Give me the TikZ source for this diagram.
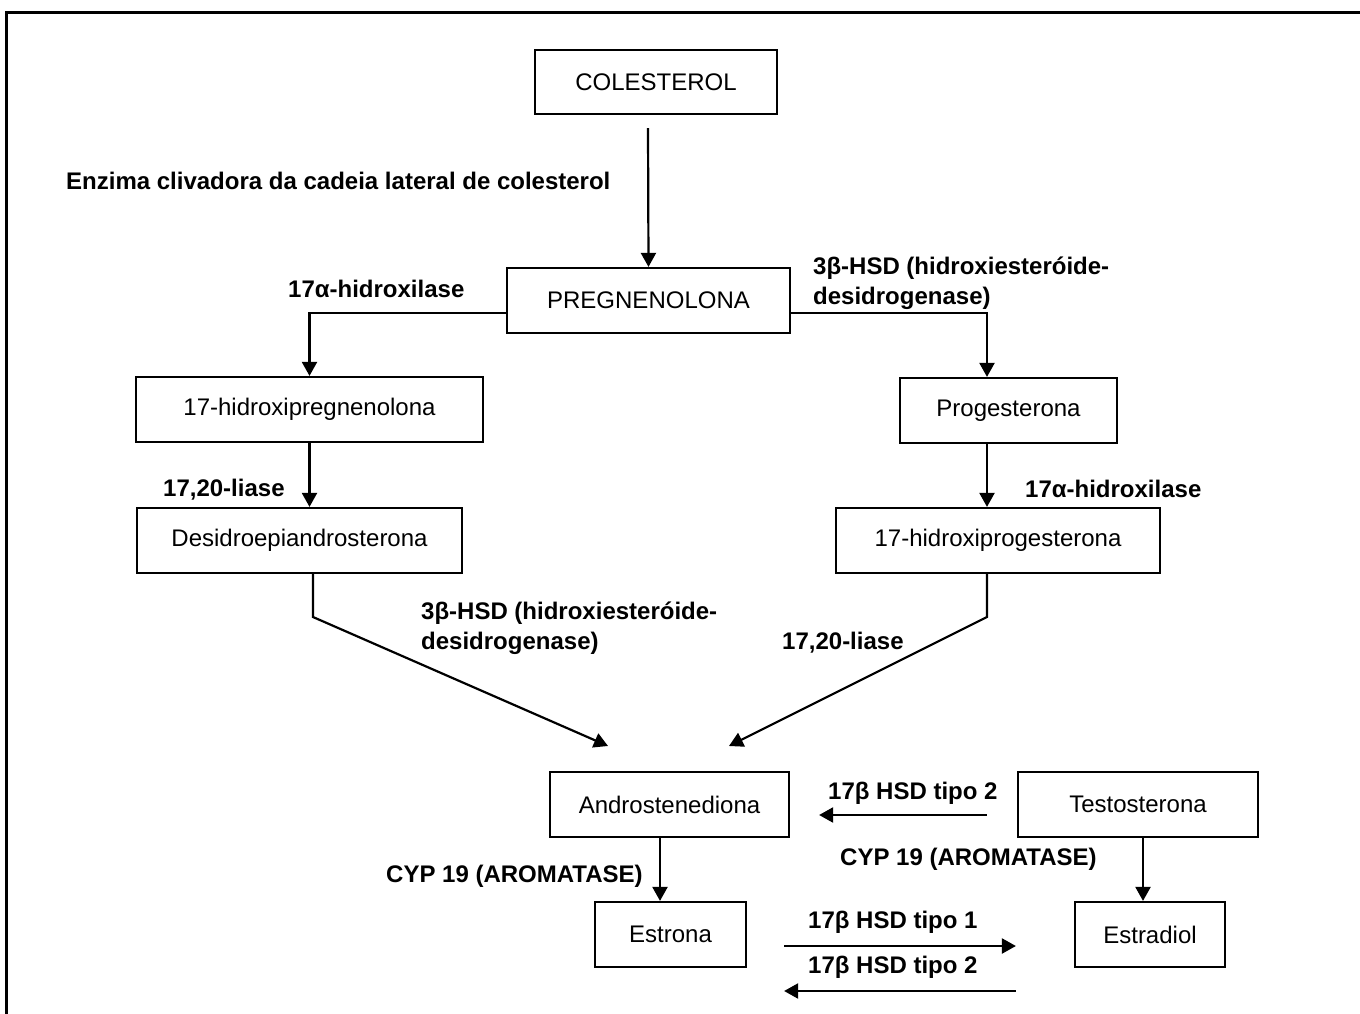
\documentclass[tikz,border=0pt]{standalone}
\usepackage{fontspec}
\setmainfont{Liberation Sans}
\usetikzlibrary{arrows.meta}
\begin{document}
\begin{tikzpicture}[x=1pt,y=-1pt,
  box/.style={draw,line width=2.2pt,inner sep=0pt,font=\fontsize{24}{29}\selectfont},
  lab/.style={inner sep=0pt,anchor=west,align=left,font=\fontsize{24}{30}\bfseries\selectfont},
  arr/.style={line width=2.2pt,-{Triangle[length=14pt,width=15pt]}}]
\useasboundingbox (0,0) rectangle (1360,1014);
\fill[white] (0,0) rectangle (1360,1014);
% frame
\draw[line width=2.6pt] (1365,12.5) -- (6.5,12.5) -- (6.5,1020);
% boxes
\node[box,minimum width=242pt,minimum height=64pt] (col) at (656,82) {COLESTEROL};
\node[box,minimum width=283pt,minimum height=65pt] (preg) at (648.5,300.5) {PREGNENOLONA};
\node[box,minimum width=347pt,minimum height=65pt] (hpreg) at (309.5,409.5) {17-hidroxipregnenolona};
\node[box,minimum width=325pt,minimum height=65pt] (dhea) at (299.5,540.5) {Desidroepiandrosterona};
\node[box,minimum width=217pt,minimum height=65pt] (prog) at (1008.5,410.5) {Progesterona};
\node[box,minimum width=324pt,minimum height=65pt] (hprog) at (998,540.5) {17-hidroxiprogesterona};
\node[box,minimum width=239pt,minimum height=65pt] (andro) at (669.5,804.5) {Androstenediona};
\node[box,minimum width=240pt,minimum height=65pt] (testo) at (1138,804.5) {Testosterona};
\node[box,minimum width=151pt,minimum height=65pt] (estrona) at (670.5,934.5) {Estrona};
\node[box,minimum width=150pt,minimum height=65pt] (estradiol) at (1150,934.5) {Estradiol};
% free-end coordinates
\coordinate (bendL) at (313,617);
\coordinate (bendR) at (987,617);
\coordinate (tipL) at (608,746);
\coordinate (tipR) at (729,746);
% connectors
\draw[arr] ([xshift=-8pt,yshift=-13pt]col.south) -- (preg.north);
\draw[arr] ([yshift=-12.5pt]preg.west) -| (hpreg.north);
\draw[arr] ([yshift=-12.5pt]preg.east) -| ([xshift=-21.5pt]prog.north);
\draw[arr] (hpreg.south) -- (hpreg.south |- dhea.north);
\draw[arr] ([xshift=-21.5pt]prog.south) -- ([xshift=-21.5pt]prog.south |- hprog.north);
\draw[arr] ([xshift=13.5pt]dhea.south) -- (bendL) -- (tipL);
\draw[arr] ([xshift=-11pt]hprog.south) -- (bendR) -- (tipR);
\draw[arr] ([xshift=-30pt,yshift=-10.5pt]testo.west) -- ([xshift=29pt,yshift=-10.5pt]andro.east);
\draw[arr] ([xshift=-9.5pt]andro.south) -- ([xshift=-9.5pt]andro.south |- estrona.north);
\draw[arr] ([xshift=5pt]testo.south) -- ([xshift=5pt]testo.south |- estradiol.north);
\draw[arr] ([xshift=37pt,yshift=-11.5pt]estrona.east) -- ([xshift=-58pt,yshift=-11.5pt]estradiol.west);
\draw[arr] ([xshift=-58pt,yshift=-56.5pt]estradiol.west) -- ([xshift=37pt,yshift=-56.5pt]estrona.east);
% labels
\node[lab] (l1) at (66,181) {Enzima clivadora da cadeia lateral de colesterol};
\node[lab] (l2) at (288,289) {17α-hidroxilase};
\node[lab] (l3) at (813,283) {3β-HSD (hidroxiesteróide-\\desidrogenase)};
\node[lab] (l4) at (163,490) {17,20-liase};
\node[lab] (l5) at (1025,489) {17α-hidroxilase};
\node[lab] (l6) at (421,628) {3β-HSD (hidroxiesteróide-\\desidrogenase)};
\node[lab] (l7) at (782,643) {17,20-liase};
\node[lab] (l8) at (828,793) {17β HSD tipo 2};
\node[lab] (l9) at (386,876) {CYP 19 (AROMATASE)};
\node[lab] (l10) at (840,859) {CYP 19 (AROMATASE)};
\node[lab] (l11) at (808,922) {17β HSD tipo 1};
\node[lab] (l12) at (808,967) {17β HSD tipo 2};
\end{tikzpicture}
\end{document}
